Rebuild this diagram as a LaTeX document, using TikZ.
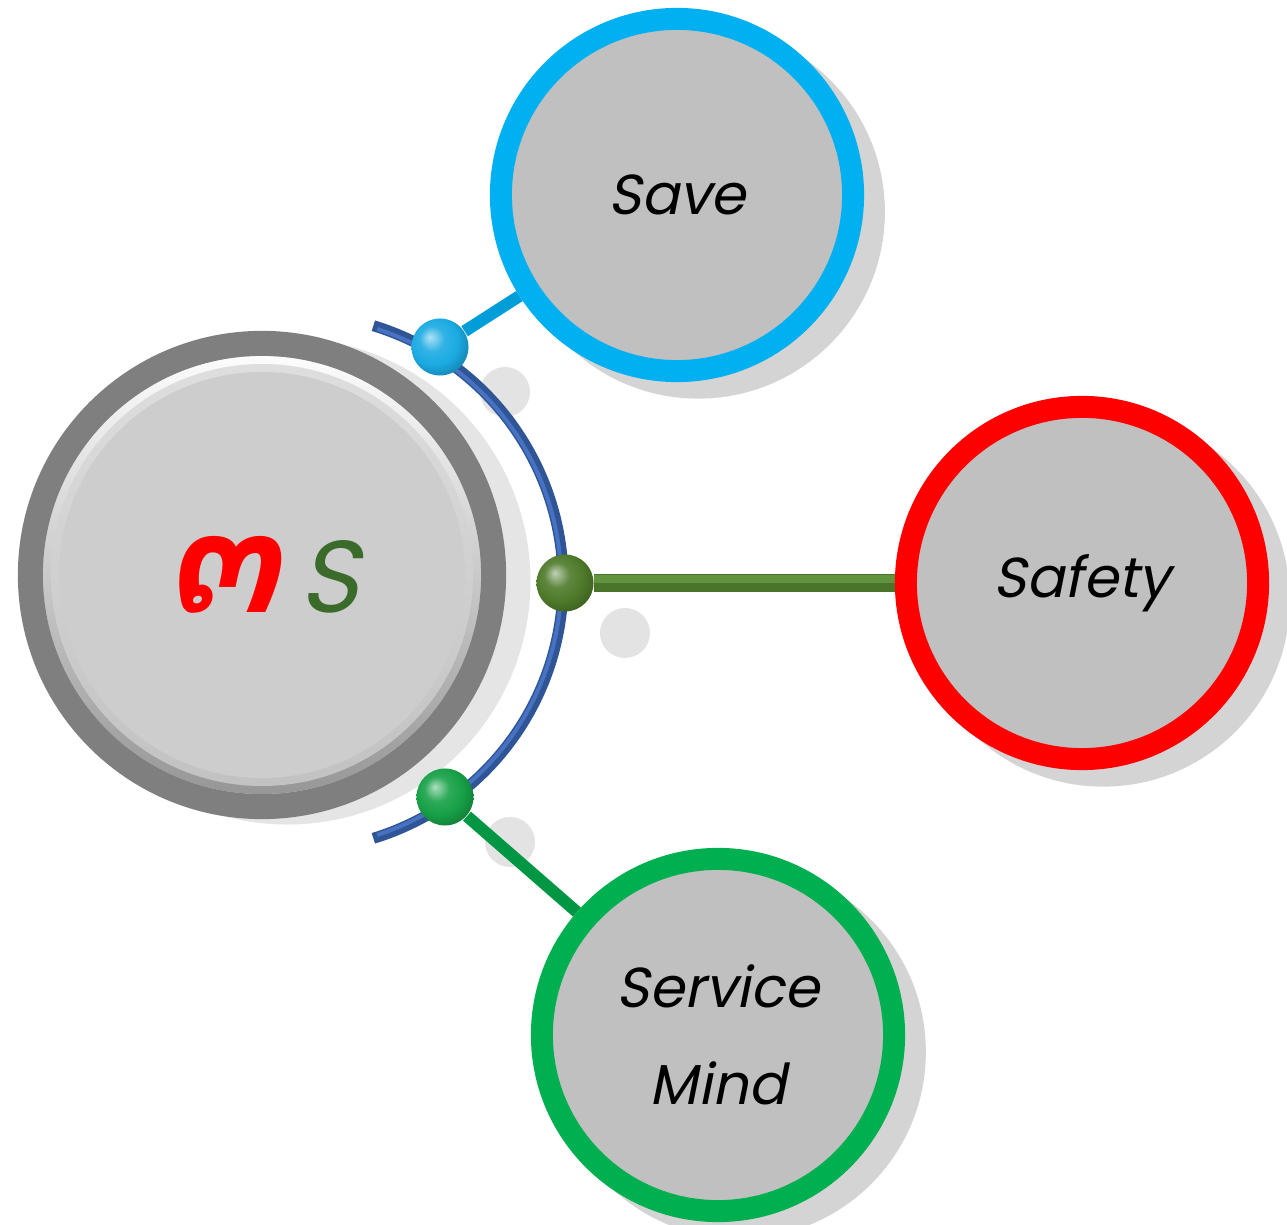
\documentclass[tikz,border=0pt]{standalone}
\usepackage{fontspec}
\usetikzlibrary{shadows}
\newfontfamily\labelfont[FakeSlant=0.2]{Poppins}
\newfontfamily\thaifont[Script=Thai]{Loma}

\definecolor{ringgray}{HTML}{7F7F7F}
\definecolor{discgray}{HTML}{CDCDCD}
\definecolor{fillgray}{HTML}{C0C0C0}
\definecolor{savecyan}{HTML}{00B0F0}
\definecolor{safetyred}{HTML}{FF0000}
\definecolor{servicegreen}{HTML}{00B050}
\definecolor{arcblue}{HTML}{2F5597}
\definecolor{arcbluelight}{HTML}{4772C2}
\definecolor{linkolive}{HTML}{4A742A}
\definecolor{linkolivelight}{HTML}{62933E}
\definecolor{ballcyan}{HTML}{1AAAE2}
\definecolor{ballolive}{HTML}{4E7A2A}
\definecolor{ballgreen}{HTML}{16A046}
\definecolor{sgreen}{HTML}{3A6B2A}

\makeatletter
\pgfdeclareradialshading[tikz@ball]{softball}{\pgfqpoint{-9bp}{9bp}}{%
  color(0bp)=(tikz@ball!35!white); color(11bp)=(tikz@ball!90!white);
  color(21bp)=(tikz@ball); color(30bp)=(tikz@ball!80!black);
  color(50bp)=(tikz@ball!55!black)}
\makeatother

\pgfdeclarelayer{background}
\pgfsetlayers{background,main}

\newcommand\ringsize{3.52cm}
\newcommand\ringwidth{0.22cm}
\newcommand\ballsize{0.57cm}
\newcommand\labelstyle{\labelfont\fontsize{16}{27.6}\selectfont}

\tikzset{
  ringnode/.style={circle, minimum size=\ringsize, line width=\ringwidth,
    fill=fillgray, align=center, font=\labelstyle, inner sep=0pt,
    drop shadow={shadow xshift=0.2cm, shadow yshift=-0.16cm,
      shadow scale=1.06, fill=black!17, opacity=1}},
  corenode/.style={circle, minimum size=4.63cm, line width=0.25cm,
    draw=ringgray, fill=discgray, inner sep=0pt,
    drop shadow={shadow xshift=0.24cm, shadow yshift=-0.06cm,
      shadow scale=1.05, fill=black!10, opacity=1},
    path picture={
      \shade[shading angle=45, top color=white, bottom color=black!42]
        (path picture bounding box.center) circle[radius=219];
      \shade[shading angle=45, top color=black!13, bottom color=black!24]
        (path picture bounding box.center) circle[radius=211];
      \fill[discgray] (path picture bounding box.center) circle[radius=203];
    }},
  ballnode/.style={circle, minimum size=\ballsize, inner sep=0pt,
    ball color=#1, shading=softball},
  ballshadow/.style={fill=black!11},
  link/.style={line width=0.12cm, draw=#1},
}

\begin{document}
\begin{tikzpicture}[x=0.01cm, y=-0.01cm]
  \useasboundingbox (0,0) rectangle (1287,1225);

  % hub
  \node[corenode] (core) at (262,575) {%
    {\thaifont\bfseries\itshape\fontsize{48}{48}\selectfont\color{safetyred}๓}%
    \hspace{0.2cm}%
    {\labelfont\fontsize{29}{29}\selectfont\color{sgreen}S}};

  \node[ballnode=ballcyan] (ballsave) at (440,347) {};
  \node[ballnode=ballolive] (ballsafety) at (565,583) {};
  \node[ballnode=ballgreen] (ballservice) at (445,797) {};

  \node[ringnode, draw=savecyan] (save) at (677,195) {Save};
  \node[ringnode, draw=safetyred] (safety) at (1082,583) {Safety};
  \node[ringnode, draw=servicegreen] (service) at (718,1035) {Service\\Mind};

  \begin{pgfonlayer}{background}
    \fill[white] (0,0) rectangle (1287,1225);
    \fill[ballshadow] (505,392) circle[radius=25];
    \fill[ballshadow] (625,633) circle[radius=25];
    \fill[ballshadow] (510,842) circle[radius=25];
    % bracket
    \draw[arcblue, line width=0.11cm]
      (295,582) ++(-73:268) arc[start angle=-73, end angle=73, radius=268];
    \draw[arcbluelight, line width=0.04cm]
      (295,582) ++(-72:266) arc[start angle=-72, end angle=72, radius=266];
    % links
    \draw[link=savecyan!90!black] (ballsave) -- (save);
    \draw[link=linkolive, line width=0.18cm] (ballsafety) -- (safety);
    \draw[linkolivelight, line width=0.08cm]
      ([yshift=0.035cm]ballsafety.east) -- ([yshift=0.035cm]safety.west);
    \draw[link=servicegreen!85!black] (ballservice) -- (service);
  \end{pgfonlayer}
\end{tikzpicture}
\end{document}
